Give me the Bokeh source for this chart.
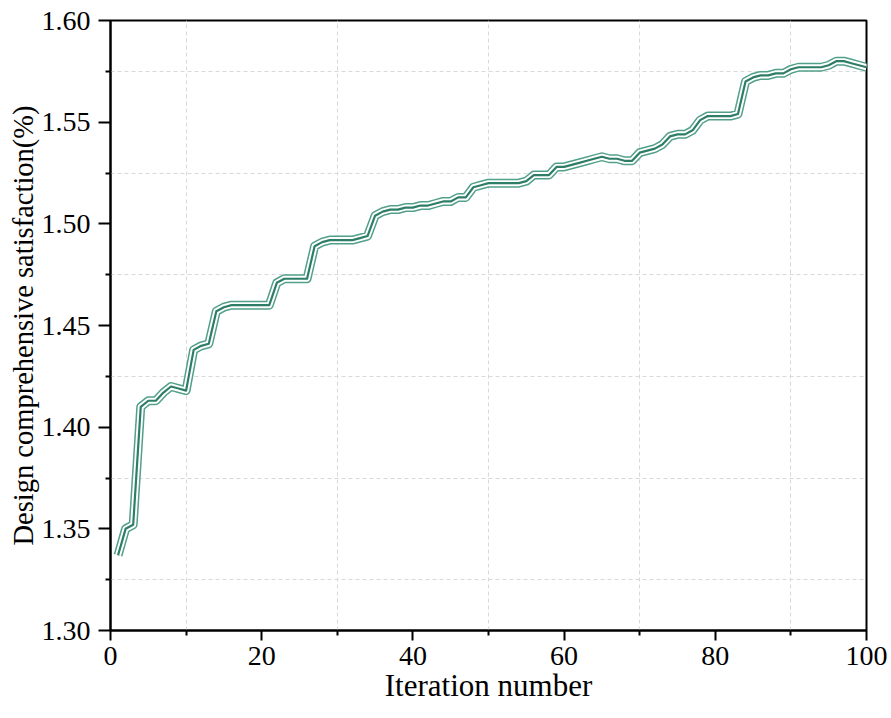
from bokeh.plotting import figure
from bokeh.models import FixedTicker, ColumnDataSource, NumeralTickFormatter
from bokeh.embed import file_html
from bokeh.resources import INLINE

iterations = list(range(1, 101))
satisfaction = [
    1.337, 1.350, 1.352, 1.410, 1.413, 1.413, 1.417, 1.420, 1.419, 1.418,
    1.438, 1.440, 1.441, 1.457, 1.459, 1.460, 1.460, 1.460, 1.460, 1.460,
    1.460, 1.471, 1.473, 1.473, 1.473, 1.473, 1.489, 1.491, 1.492, 1.492,
    1.492, 1.492, 1.493, 1.494, 1.504, 1.506, 1.507, 1.507, 1.508, 1.508,
    1.509, 1.509, 1.510, 1.511, 1.511, 1.513, 1.513, 1.518, 1.519, 1.520,
    1.520, 1.520, 1.520, 1.520, 1.521, 1.524, 1.524, 1.524, 1.528, 1.528,
    1.529, 1.530, 1.531, 1.532, 1.533, 1.532, 1.532, 1.531, 1.531, 1.535,
    1.536, 1.537, 1.539, 1.543, 1.544, 1.544, 1.546, 1.551, 1.553, 1.553,
    1.553, 1.553, 1.554, 1.570, 1.572, 1.573, 1.573, 1.574, 1.574, 1.576,
    1.577, 1.577, 1.577, 1.577, 1.578, 1.580, 1.580, 1.579, 1.578, 1.577,
]

x_major = [0, 20, 40, 60, 80, 100]
x_minor = [10, 30, 50, 70, 90]
y_major = [1.30, 1.35, 1.40, 1.45, 1.50, 1.55, 1.60]
y_minor = [1.325, 1.375, 1.425, 1.475, 1.525, 1.575]

FONT = "Liberation Serif"

p = figure(width=891, height=718, x_range=(0, 100), y_range=(1.30, 1.60),
           output_backend="svg", toolbar_location=None,
           min_border_left=110, min_border_right=25,
           min_border_top=20, min_border_bottom=88)
p.background_fill_color = "white"
p.border_fill_color = "white"
p.outline_line_color = "black"
p.outline_line_width = 2

src = ColumnDataSource(dict(x=iterations, y=satisfaction))
p.line("x", "y", source=src, line_color="#52a08a", line_width=9, line_join="round", line_cap="butt")
p.line("x", "y", source=src, line_color="white", line_width=6, line_join="round", line_cap="butt")
p.line("x", "y", source=src, line_color="#2e7d67", line_width=2.2, line_join="round", line_cap="butt")

for ax in (p.xaxis[0], p.yaxis[0]):
    ax.axis_line_width = 2
    ax.axis_line_color = "black"
    ax.major_tick_line_width = 2
    ax.minor_tick_line_width = 2
    ax.major_tick_line_color = "black"
    ax.minor_tick_line_color = "black"
    ax.major_tick_in = 0
    ax.minor_tick_out = 5
    ax.minor_tick_in = 0
    ax.major_label_text_font = FONT
    ax.major_label_text_font_size = "28px"
    ax.major_label_text_color = "black"
    ax.axis_label_text_font = FONT
    ax.axis_label_text_font_style = "normal"
    ax.axis_label_text_color = "black"

p.xaxis[0].major_tick_out = 10
p.yaxis[0].major_tick_out = 12
p.xaxis[0].axis_label_text_font_size = "31px"
p.yaxis[0].axis_label_text_font_size = "28.5px"

p.xaxis[0].ticker = FixedTicker(ticks=x_major, minor_ticks=x_minor)
p.yaxis[0].ticker = FixedTicker(ticks=y_major, minor_ticks=y_minor)
p.yaxis[0].formatter = NumeralTickFormatter(format="0.00")
p.xaxis[0].axis_label = "Iteration number"
p.yaxis[0].axis_label = "Design comprehensive satisfaction(%)"
p.xaxis[0].major_label_standoff = 6
p.yaxis[0].major_label_standoff = 8
p.xaxis[0].axis_label_standoff = 0
p.yaxis[0].axis_label_standoff = 0

p.xgrid[0].ticker = FixedTicker(ticks=x_minor)
p.ygrid[0].ticker = FixedTicker(ticks=y_minor)
for g in (p.xgrid[0], p.ygrid[0]):
    g.grid_line_color = "#d9d9d9"
    g.grid_line_width = 1
    g.grid_line_dash = "4 3"

open("out.html", "w").write(file_html(p, INLINE))
